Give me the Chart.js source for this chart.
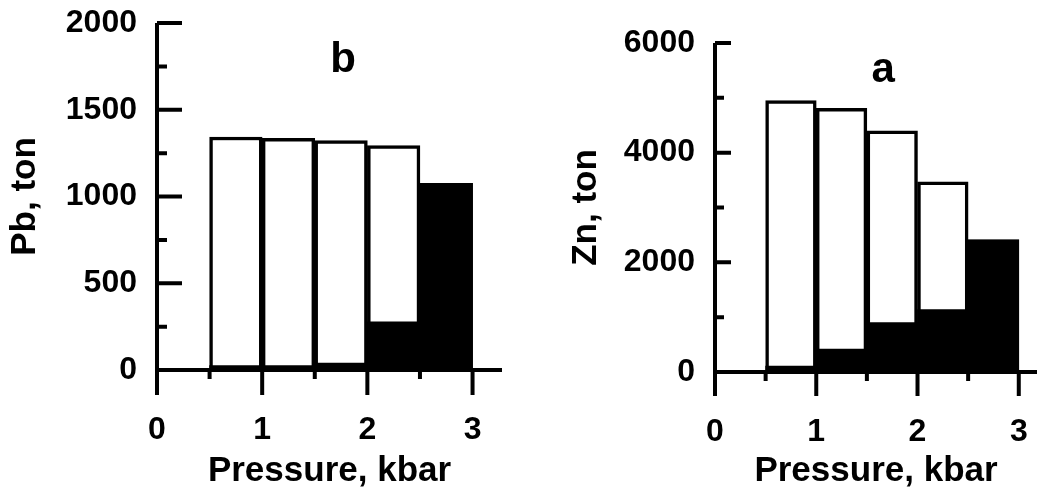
<!DOCTYPE html>
<html>
<head>
<meta charset="utf-8">
<script src="https://cdn.jsdelivr.net/npm/chart.js@4.4.0/dist/chart.umd.min.js"></script>
<style>
  html, body { margin: 0; padding: 0; background: #fff; overflow: hidden; }
  #wrap { position: relative; width: 1037px; height: 493px; }
  canvas { position: absolute; top: 0; }
  #pbChart { left: 0; }
  #znChart { left: 520px; }
</style>
</head>
<body>
<div id="wrap">
  <canvas id="pbChart" width="520" height="493"></canvas>
  <canvas id="znChart" width="517" height="493"></canvas>
</div>
<script>
// histogram bins, 0.5 kbar wide, given by their centres
const binCenters = [0.25, 0.75, 1.25, 1.75, 2.25, 2.75];

// Pb (panel b): open bars and filled bars
const pbOpen   = [null, 1343, 1335, 1322, 1293, 1076];
const pbFilled = [10, 25, 25, 40, 278, 1076];

// Zn (panel a)
const znOpen   = [null, 4950, 4810, 4400, 3470, 2410];
const znFilled = [20, 110, 420, 900, 1140, 2410];

const xTickValues  = [0, 1, 2, 3];
const xMinorValues = [0.5, 1.5, 2.5];
const pbTickValues  = [0, 500, 1000, 1500, 2000];
const pbMinorValues = [250, 750, 1250, 1750];
const znTickValues  = [0, 2000, 4000, 6000];
const znMinorValues = [1000, 3000, 5000];

const FONT = "'Liberation Sans', Arial, sans-serif";
const tickFont  = { family: FONT, size: 32, weight: 'bold' };
const titleFont = { family: FONT, size: 35, weight: 'bold' };

// axis lines + inward/outward tick marks + panel letter, all through the scales
const frameAxes = {
  id: 'frameAxes',
  afterDatasetsDraw(chart, args, opts) {
    const { ctx, scales: { x, y } } = chart;
    const x0 = x.getPixelForValue(0);
    const y0 = y.getPixelForValue(0);
    ctx.save();
    ctx.strokeStyle = '#000';
    ctx.lineWidth = 4;
    ctx.lineCap = 'butt';
    ctx.beginPath();
    ctx.moveTo(x0, y.getPixelForValue(y.max));
    ctx.lineTo(x0, y0 + opts.xMajorLen);
    ctx.moveTo(x0, y0);
    ctx.lineTo(x.getPixelForValue(x.max), y0);
    opts.yMajor.forEach(v => {
      const p = y.getPixelForValue(v);
      ctx.moveTo(x0, p); ctx.lineTo(x0 + opts.yMajorLen, p);
    });
    opts.yMinor.forEach(v => {
      const p = y.getPixelForValue(v);
      ctx.moveTo(x0, p); ctx.lineTo(x0 + opts.yMinorLen, p);
    });
    xTickValues.forEach(v => {
      const p = x.getPixelForValue(v);
      ctx.moveTo(p, y0); ctx.lineTo(p, y0 + opts.xMajorLen);
    });
    xMinorValues.forEach(v => {
      const p = x.getPixelForValue(v);
      ctx.moveTo(p, y0); ctx.lineTo(p, y0 + opts.xMinorLen);
    });
    ctx.stroke();

    ctx.fillStyle = '#000';
    ctx.font = "bold 42px " + FONT;
    ctx.textAlign = 'center';
    ctx.textBaseline = 'alphabetic';
    ctx.fillText(opts.letter, x.getPixelForValue(opts.letterAt[0]), y.getPixelForValue(opts.letterAt[1]));
    ctx.restore();
  }
};

// keep label overhang from shrinking the plot area
function noLabelPadding(s) {
  s.paddingLeft = 0; s.paddingRight = 0; s.paddingTop = 0; s.paddingBottom = 0;
}

function makeHistogram(canvasId, cfg) {
  const canvas = document.getElementById(canvasId);
  if (!canvas) {
    console.warn('Canvas not found: ' + canvasId);
    return;
  }
  new Chart(canvas, {
    type: 'bar',
    data: {
      datasets: [
        {
          // filled part goes first so it is drawn on top
          data: binCenters.map((c, i) => ({ x: c, y: cfg.filled[i] })),
          backgroundColor: '#000',
          borderColor: '#000',
          borderWidth: 0
        },
        {
          data: binCenters.map((c, i) => ({ x: c, y: cfg.open[i] })),
          backgroundColor: '#fff',
          borderColor: '#000',
          borderWidth: 3.5,
          borderSkipped: 'start'
        }
      ]
    },
    plugins: [frameAxes],
    options: {
      responsive: false,
      animation: false,
      grouped: false,
      barPercentage: 1,
      categoryPercentage: 1,
      layout: { padding: cfg.padding },
      scales: {
        x: {
          type: 'linear',
          offset: false,
          min: 0,
          max: cfg.xMax,
          grid: { display: false, drawTicks: false },
          border: { display: false },
          afterBuildTicks: s => { s.ticks = xTickValues.map(v => ({ value: v })); },
          afterFit: s => { s.height = cfg.xHeight; noLabelPadding(s); },
          ticks: { padding: 41, font: tickFont, color: '#000', callback: v => String(v) },
          title: {
            display: true, text: 'Pressure, kbar', color: '#000', font: titleFont,
            padding: { top: 0, bottom: 1 }
          }
        },
        y: {
          min: 0,
          max: cfg.yMax,
          grid: { display: false, drawTicks: false },
          border: { display: false },
          afterBuildTicks: s => { s.ticks = cfg.yTicks.map(v => ({ value: v })); },
          afterFit: s => { s.width = cfg.yWidth; noLabelPadding(s); },
          ticks: { padding: 20, font: tickFont, color: '#000', callback: v => String(v) },
          title: {
            display: true, text: cfg.yTitle, color: '#000', font: titleFont,
            padding: { top: cfg.yTitlePad, bottom: 0 }
          }
        }
      },
      plugins: {
        legend: { display: false },
        tooltip: { enabled: false },
        frameAxes: cfg.frame
      }
    }
  });
}

document.addEventListener('DOMContentLoaded', () => {
  // Panel b: Pb
  makeHistogram('pbChart', {
    open: pbOpen, filled: pbFilled,
    xMax: 3.28, yMax: 2000, yTicks: pbTickValues,
    padding: { top: 23, right: 18, left: 0, bottom: 0 },
    xHeight: 123, yWidth: 157,
    yTitle: 'Pb, ton', yTitlePad: 4,
    frame: {
      yMajor: pbTickValues, yMinor: pbMinorValues,
      yMajorLen: 25, yMinorLen: 10, xMajorLen: 25, xMinorLen: 9,
      letter: 'b', letterAt: [1.77, 1717]
    }
  });

  // Panel a: Zn
  makeHistogram('znChart', {
    open: znOpen, filled: znFilled,
    xMax: 3.18, yMax: 6000, yTicks: znTickValues,
    padding: { top: 43, right: 0, left: 0, bottom: 0 },
    xHeight: 121, yWidth: 195,
    yTitle: 'Zn, ton', yTitlePad: 45,
    frame: {
      yMajor: znTickValues, yMinor: znMinorValues,
      yMajorLen: 16, yMinorLen: 9, xMajorLen: 24, xMinorLen: 9,
      letter: 'a', letterAt: [1.66, 5290]
    }
  });
});
</script>
</body>
</html>
